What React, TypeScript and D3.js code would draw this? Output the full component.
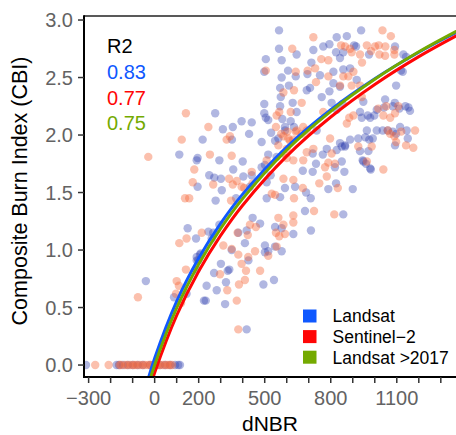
import React from 'react';
import * as d3 from 'd3';

// Landsat plots (dNBR, CBI)
const landsatPoints: [number, number][] = [
  [565, 2.91], [565, 2.75], [645, 2.7], [505, 2.66], [577, 2.65], [498, 2.55], [606, 2.56], [641, 2.51],
  [577, 2.5], [610, 2.43], [570, 2.41], [573, 2.33], [627, 2.28], [498, 2.27], [570, 2.25], [275, 2.19],
  [498, 2.19], [505, 2.15], [645, 2.2], [580, 2.14], [516, 2.13], [395, 2.12], [441, 2.11], [618, 2.12],
  [310, 2.05], [355, 2.07], [592, 2.07], [633, 2.07], [429, 2.01], [529, 2.02], [218, 1.96], [351, 1.96],
  [486, 1.94], [547, 1.95],
  [827, 2.85], [873, 2.86], [938, 2.91], [766, 2.77], [794, 2.79], [721, 2.74], [712, 2.63], [824, 2.72],
  [842, 2.67], [857, 2.72], [906, 2.78], [915, 2.77], [974, 2.7], [1092, 2.77], [694, 2.53], [751, 2.52],
  [812, 2.55], [857, 2.57], [888, 2.58], [812, 2.45], [842, 2.42], [794, 2.38], [918, 2.48], [706, 2.41],
  [691, 2.39], [759, 2.33], [804, 2.28], [827, 2.22], [854, 2.27], [948, 2.29], [1097, 2.43], [1119, 2.56],
  [1047, 2.31], [1091, 2.28], [1153, 2.24], [1160, 2.21], [1042, 2.24], [1009, 2.22], [933, 2.2], [941, 2.15],
  [979, 2.15], [1115, 2.07], [1145, 2.04], [964, 2.04], [1009, 2.04], [1036, 2.04], [888, 1.96], [925, 1.97],
  [957, 1.98], [842, 1.93], [865, 1.91], [736, 2.04],
  [112, 1.83], [191, 1.78], [195, 1.8], [294, 1.78], [400, 1.77], [248, 1.65], [271, 1.63], [301, 1.62],
  [357, 1.7], [403, 1.64], [441, 1.65], [486, 1.72], [501, 1.74], [516, 1.83], [554, 1.81], [195, 1.55],
  [305, 1.52], [433, 1.55], [509, 1.59], [527, 1.65], [570, 1.46], [509, 1.45], [592, 1.54], [638, 1.55],
  [277, 1.43], [370, 1.45], [445, 1.28], [150, 1.19], [188, 1.1], [244, 1.16], [259, 1.1], [294, 1.22],
  [380, 1.15], [418, 1.17], [479, 1.23], [410, 1.06], [547, 1.2], [577, 1.19], [501, 1.04], [630, 1.14],
  [209, 0.97], [191, 0.94], [350, 1.0], [501, 0.98], [516, 0.99], [547, 1.03], [577, 0.99],
  [718, 1.84], [764, 1.83], [782, 1.88], [827, 1.87], [850, 1.9], [865, 1.9], [850, 1.77], [673, 1.69],
  [718, 1.68], [733, 1.75], [819, 1.72], [862, 1.68], [824, 1.58], [789, 1.53], [900, 1.53], [933, 1.86],
  [971, 1.86], [1092, 1.91], [948, 1.77], [982, 1.7], [688, 1.5], [709, 1.45], [683, 1.34], [857, 1.31],
  [710, 1.17],
  [88, 0.59], [145, 0.62], [191, 0.83], [191, 0.91], [301, 0.88], [270, 0.8], [332, 0.82], [339, 0.83],
  [426, 0.91], [494, 0.7], [542, 0.74], [236, 0.69], [282, 0.65], [324, 0.72], [232, 0.56], [320, 0.53],
  [418, 0.31], [-40, 0.73], [266, 1.15], [198, 0.91], [206, 0.96], [224, 0.56],
  [1130, 2.7], [1142, 2.68], [1127, 2.55], [1082, 2.25], [1112, 2.23], [1139, 2.25], [968, 2.17], [998, 2.17],
  [1059, 2.04], [1082, 2.03], [1097, 2.01], [1150, 1.97], [975, 1.96], [991, 1.97], [945, 1.78], [960, 1.75],
  [979, 1.71], [592, 2.04], [562, 1.97],
];
// unburned Landsat plots sitting on CBI = 0
const landsatZero = [-312, -173, -162, -144, -121, -99, -76, -53, -21, 24, 47, 70, 93, 107, 115];

const sentinelPoints: [number, number][] = [
  [625, 2.75], [505, 2.56], [641, 2.55], [633, 2.39], [585, 2.37], [142, 2.19], [566, 2.2], [554, 2.17],
  [618, 2.2], [244, 2.07], [551, 2.07], [575, 2.01], [603, 2.03], [641, 2.03], [123, 1.96], [327, 1.96],
  [342, 1.99], [615, 1.95],
  [721, 2.85], [1035, 2.91], [1073, 2.86], [757, 2.66], [789, 2.65], [847, 2.78], [865, 2.77], [888, 2.75],
  [895, 2.72], [933, 2.7], [942, 2.63], [964, 2.78], [1001, 2.77], [1018, 2.78], [1021, 2.7], [1047, 2.69],
  [1089, 2.7], [983, 2.73], [789, 2.51], [729, 2.58], [903, 2.55], [880, 2.51], [857, 2.51], [842, 2.43],
  [895, 2.43], [933, 2.43], [766, 2.2], [668, 2.28], [941, 2.33], [1016, 2.23], [1107, 2.25], [1092, 2.19],
  [1070, 2.15], [903, 2.17], [1039, 2.17], [1183, 2.04], [1059, 2.04], [1070, 2.01], [884, 2.15], [873, 2.1],
  [797, 1.97], [675, 2.07], [691, 2.04], [668, 2.01],
  [251, 1.83], [350, 1.82], [180, 1.7], [338, 1.62], [373, 1.6], [441, 1.68], [509, 1.78], [562, 1.91],
  [600, 1.88], [585, 1.84], [600, 1.8], [630, 1.78], [173, 1.59], [266, 1.57], [355, 1.57], [395, 1.55],
  [407, 1.54], [445, 1.58], [532, 1.49], [547, 1.48], [585, 1.62], [630, 1.61], [633, 1.45], [138, 1.45],
  [157, 1.45], [347, 1.43], [562, 1.28], [630, 1.3], [214, 1.15], [145, 1.1], [112, 1.06], [433, 1.22],
  [460, 1.2], [423, 1.13], [377, 1.15], [551, 1.15], [585, 1.22], [630, 1.24], [566, 1.12], [592, 1.14],
  [312, 1.04], [350, 1.01], [380, 0.96], [425, 0.94], [456, 0.99], [516, 0.95], [554, 1.03],
  [675, 1.78], [691, 1.85], [721, 1.88], [804, 1.84], [789, 1.76], [819, 1.75], [774, 1.72], [782, 1.64],
  [748, 1.58], [832, 1.54], [925, 1.9], [986, 1.9], [964, 1.77], [1039, 1.7], [1142, 1.91], [1175, 1.89],
  [673, 1.54], [724, 1.34], [816, 1.31],
  [142, 0.83], [100, 0.73], [110, 0.69], [97, 0.62], [297, 0.79], [395, 0.88], [415, 0.82], [479, 0.82],
  [410, 0.74], [383, 0.7], [330, 0.65], [373, 0.56], [380, 0.31], [-29, 1.81], [-76, 0.59], [120, 0.54],
  [1048, 2.77], [1089, 2.74], [1052, 2.25], [1120, 2.03], [1097, 1.94], [1089, 1.99], [585, 1.99], [607, 1.97],
  [630, 1.96], [645, 2.04], [695, 2.56], [733, 2.46],
];
const sentinelZero = [
  -270, -209, -160, -153, -135, -125, -112, -100, -90, -80, -67, -55, -44, -30, -20, -8, 5, 15, 25, 38, 50,
  60, 70, 79,
];

// fitted curves
const fitDnbr = [-40, 0, 100, 200, 300, 400, 600, 800, 1000, 1200, 1400];
const fitLandsat = [-0.192, 0.059, 0.554, 0.929, 1.232, 1.486, 1.896, 2.221, 2.49, 2.72, 2.92];
const fitSentinel = [-0.319, -0.068, 0.431, 0.815, 1.127, 1.39, 1.817, 2.157, 2.44, 2.682, 2.893];
const fitLandsat2017 = [-0.25, 0, 0.496, 0.877, 1.187, 1.447, 1.87, 2.206, 2.485, 2.724, 2.932];

const legendLabels = ['Landsat', 'Sentinel\u22122', 'Landsat >2017'];
const r2Values = ['0.83', '0.77', '0.75'];
const xTicks = [-300, -200, -100, 0, 100, 200, 300, 400, 500, 600, 700, 800, 900, 1000, 1100, 1200, 1300];
const xLabels = [-300, 0, 200, 500, 800, 1100];
const yTicks = [0, 0.5, 1, 1.5, 2, 2.5, 3];

const colors = ['#0F58FF', '#FF0606', '#74AA00'];
const FONT = '"Liberation Sans", Arial, Helvetica, sans-serif';

const width = 456;
const height = 435;
const m = { left: 84, right: 456, top: 16, bottom: 377 };

const fmtMinus = (v: number) => (v < 0 ? '\u2212' + Math.abs(v) : String(v));

const App = () => {
  const x = d3.scaleLinear().domain([-321, 1369]).range([m.left, m.right]);
  const y = d3.scaleLinear().domain([-0.104, 3.035]).range([m.bottom, m.top]);

  const line = d3
    .line<[number, number]>()
    .x((d) => x(d[0]))
    .y((d) => y(d[1]))
    .curve(d3.curveCatmullRom);

  const fits = [fitLandsat, fitSentinel, fitLandsat2017];

  const landsatAll: [number, number][] = [...landsatPoints, ...landsatZero.map((d) => [d, 0] as [number, number])];
  const sentinelAll: [number, number][] = [...sentinelPoints, ...sentinelZero.map((d) => [d, 0] as [number, number])];

  return (
    <svg
      width={width}
      height={height}
      style={{ position: 'absolute', left: 0, top: 0, background: '#fff' }}
      fontFamily={FONT}
    >
      <defs>
        <clipPath id="panel">
          <rect x={m.left} y={m.top} width={m.right - m.left} height={m.bottom - m.top} />
        </clipPath>
      </defs>

      <g clipPath="url(#panel)">
        {landsatAll.map((d, i) => (
          <circle key={'l' + i} cx={x(d[0])} cy={y(d[1])} r={4.2} fill="#3341B0" fillOpacity={0.38} />
        ))}
        {sentinelAll.map((d, i) => (
          <circle key={'s' + i} cx={x(d[0])} cy={y(d[1])} r={4.2} fill="#F5693C" fillOpacity={0.42} />
        ))}
        {fits.map((f, k) => (
          <path
            key={'fit' + k}
            d={line(fitDnbr.map((v, i) => [v, f[i]] as [number, number])) || ''}
            fill="none"
            stroke={colors[k]}
            strokeWidth={3}
          />
        ))}
      </g>

      {/* axes */}
      <line x1={m.left} x2={m.right} y1={m.top} y2={m.top} stroke="#222" strokeWidth={1.6} />
      <line x1={m.left} x2={m.left} y1={m.top - 0.8} y2={m.bottom + 1} stroke="#000" strokeWidth={2} />
      <line x1={m.left - 1} x2={m.right} y1={m.bottom} y2={m.bottom} stroke="#000" strokeWidth={2} />

      {yTicks.map((t) => (
        <g key={'y' + t}>
          <line x1={m.left - 6} x2={m.left} y1={y(t)} y2={y(t)} stroke="#333" strokeWidth={1.5} />
          <text x={m.left - 11} y={y(t)} dy="0.36em" textAnchor="end" fontSize={20} fill="#636363">
            {t.toFixed(1)}
          </text>
        </g>
      ))}
      {xTicks.map((t) => (
        <line key={'xt' + t} x1={x(t)} x2={x(t)} y1={m.bottom} y2={m.bottom + 6} stroke="#333" strokeWidth={1.5} />
      ))}
      {xLabels.map((t) => (
        <text key={'xl' + t} x={x(t)} y={405} textAnchor="middle" fontSize={20} fill="#636363">
          {fmtMinus(t)}
        </text>
      ))}

      <text x={270} y={431} textAnchor="middle" fontSize={21} fill="#000">
        dNBR
      </text>
      <text transform={`translate(27, 191) rotate(-90)`} textAnchor="middle" fontSize={21.5} fill="#000">
        Composite Burn Index (CBI)
      </text>

      {/* R2 annotation */}
      <text x={107} y={53} fontSize={20} fill="#000">
        R2
      </text>
      {r2Values.map((v, i) => (
        <text key={'r2' + i} x={107} y={79 + i * 25.5} fontSize={20} fill={colors[i]}>
          {v}
        </text>
      ))}

      {/* legend */}
      {legendLabels.map((lab, i) => (
        <g key={'lg' + i} transform={`translate(303, ${316 + i * 20.6})`}>
          <rect x={0} y={-6.5} width={13.5} height={13} fill={colors[i]} />
          <text x={29.5} y={0} dy="0.36em" fontSize={17.5} fill="#000">
            {lab}
          </text>
        </g>
      ))}
    </svg>
  );
};

export default App;
